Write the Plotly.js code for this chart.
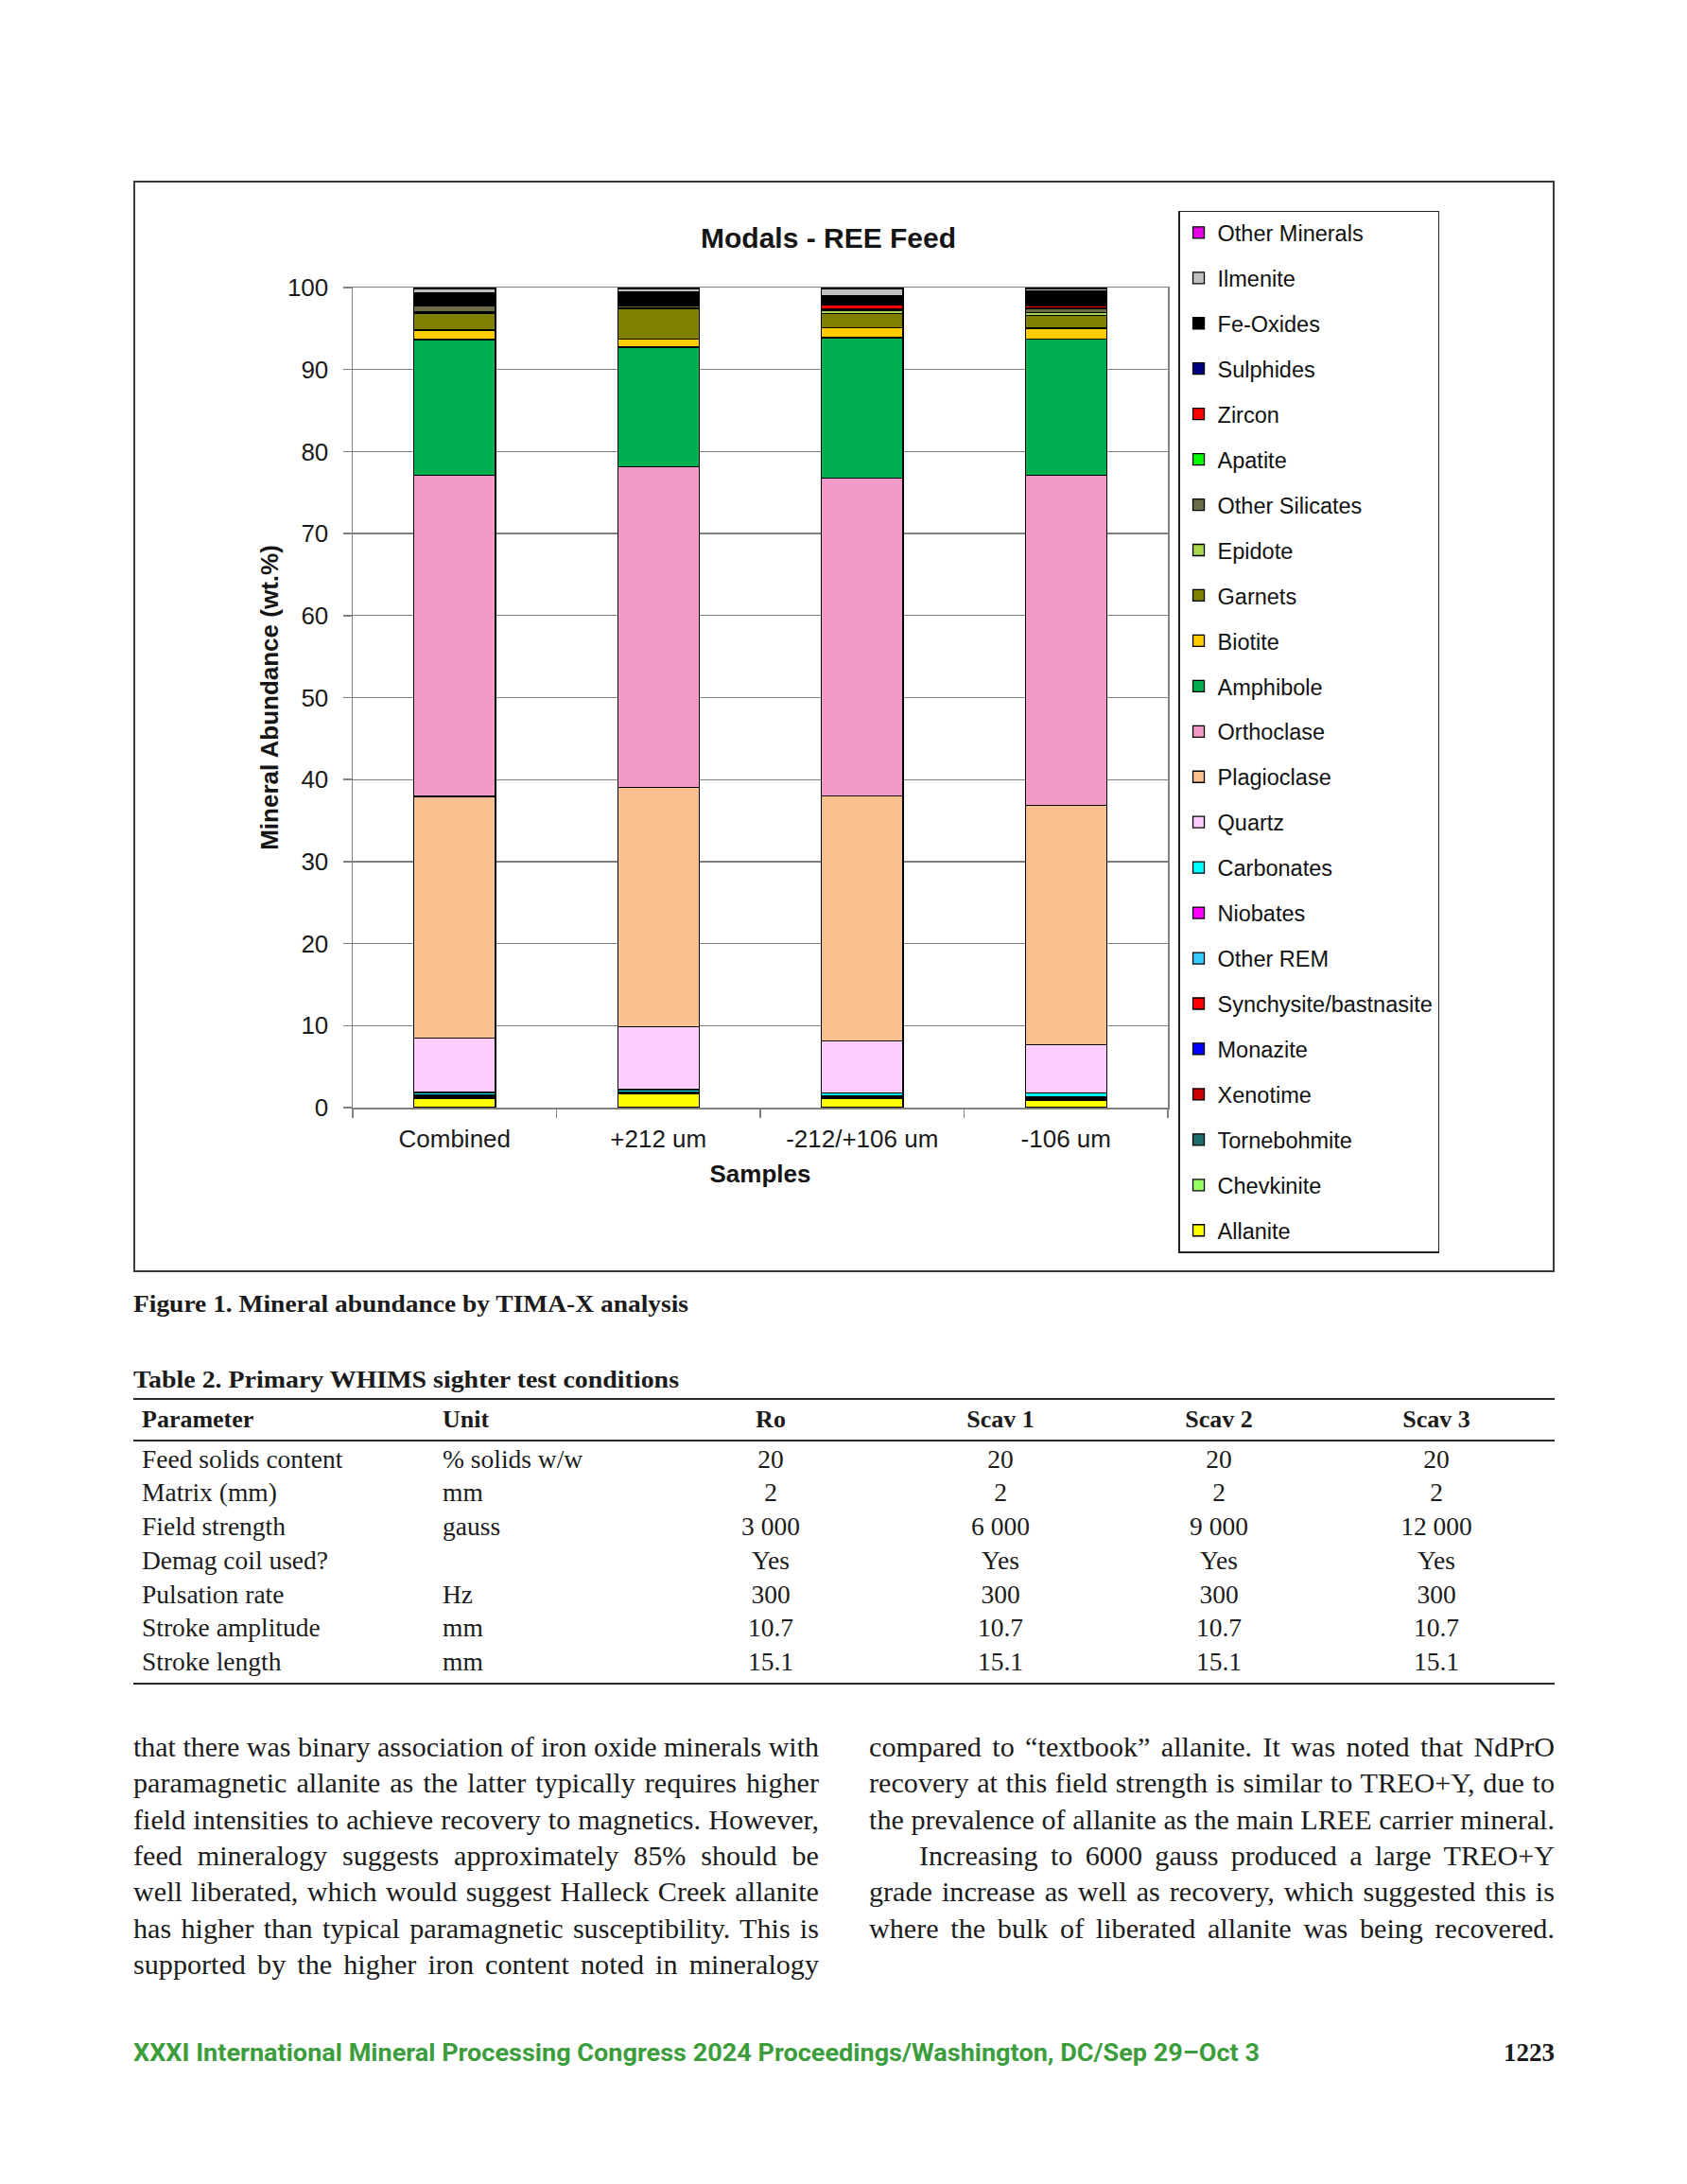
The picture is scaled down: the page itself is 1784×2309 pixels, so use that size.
<!DOCTYPE html>
<html>
<head>
<meta charset="utf-8">
<script src="https://cdn.plot.ly/plotly-3.0.1.min.js"></script>
<style>
  html, body { margin:0; padding:0; background:#fff; }
  body { width:1784px; height:2309px; position:relative; overflow:hidden; }
  #box { position:absolute; left:141px; top:191px; width:1503px; height:1154px; box-sizing:border-box; border:2px solid #3a3a3a; }
  #chart { position:absolute; left:0; top:0; width:1499px; height:1150px; }
  .t { position:absolute; white-space:nowrap; color:#1b1b1b; font-family:'Liberation Serif','Times New Roman',serif; }
  .rule { position:absolute; left:141px; width:1503px; background:#2a2a2a; }
</style>
</head>
<body>
<div id="box"><div id="chart"></div></div>
<div id="page"></div>
<script>
// ---------- chart data ----------
const categories = ['Combined', '+212 um', '-212/+106 um', '-106 um'];
const allanite     = [1.15, 1.70, 1.08, 0.89];
const chevkinite   = [0.05, 0.03, 0.05, 0.05];
const tornebohmite = [0.05, 0.05, 0.10, 0.15];
const xenotime     = [0.02, 0.02, 0.02, 0.03];
const monazite     = [0.05, 0.03, 0.05, 0.05];
const synchysite   = [0.05, 0.03, 0.05, 0.05];
const otherREM     = [0.10, 0.05, 0.10, 0.10];
const niobates     = [0.02, 0.02, 0.02, 0.03];
const carbonates   = [0.35, 0.25, 0.35, 0.40];
const quartz       = [6.66, 7.70, 6.28, 5.95];
const plagioclase  = [29.45, 29.17, 29.90, 29.15];
const orthoclase   = [39.15, 39.10, 38.75, 40.25];
const amphibole    = [16.55, 14.60, 17.15, 16.60];
const biotite      = [1.15, 1.00, 1.20, 1.35];
const garnets      = [2.10, 3.70, 1.70, 1.55];
const epidote      = [0.10, 0.05, 0.35, 0.35];
const otherSilicates = [0.75, 0.25, 0.20, 0.45];
const apatite      = [0.10, 0.05, 0.05, 0.10];
const zircon       = [0.20, 0.05, 0.45, 0.30];
const sulphides    = [0.10, 0.05, 0.05, 0.15];
const feOxides     = [1.15, 1.55, 1.05, 1.65];
const ilmenite     = [0.60, 0.45, 0.85, 0.30];
const otherMinerals = [0.10, 0.10, 0.20, 0.10];

// stack order, bottom to top
const seriesNames = ['Allanite','Chevkinite','Tornebohmite','Xenotime','Monazite','Synchysite/bastnasite',
  'Other REM','Niobates','Carbonates','Quartz','Plagioclase','Orthoclase','Amphibole','Biotite','Garnets',
  'Epidote','Other Silicates','Apatite','Zircon','Sulphides','Fe-Oxides','Ilmenite','Other Minerals'];
const seriesValues = [allanite, chevkinite, tornebohmite, xenotime, monazite, synchysite, otherREM, niobates,
  carbonates, quartz, plagioclase, orthoclase, amphibole, biotite, garnets, epidote, otherSilicates, apatite,
  zircon, sulphides, feOxides, ilmenite, otherMinerals];
const seriesColors = ['#FFFF00','#99FF66','#1F6E6E','#CC0000','#0000FF','#FF0000',
  '#33CCFF','#FF00FF','#00FFFF','#FFCCFF','#FAC090','#F49AC8','#00B050','#FFCC00','#808000',
  '#A8D84E','#6B6B47','#00FF00','#FF0000','#000080','#000000','#C0C0C0','#E600E6'];

const chartTitle = 'Modals - REE Feed';
const yTitle = 'Mineral Abundance (wt.%)';
const xTitle = 'Samples';

const SANS = 'Liberation Sans, Arial, sans-serif';

const traces = seriesNames.map((n, i) => ({
  type: 'bar',
  name: n,
  x: categories,
  y: seriesValues[i],
  legendgroup: 'g' + i,
  legendrank: 100 - i,
  marker: { color: seriesColors[i], line: { color: '#000', width: 1.3 } },
  hoverinfo: 'skip'
}));

const layout = {
  width: 1499, height: 1150,
  margin: { l: 230, r: 407, t: 110.5, b: 171.5, pad: 0 },
  paper_bgcolor: '#fff', plot_bgcolor: '#fff',
  barmode: 'stack', bargap: 0.6,
  font: { family: SANS, color: '#1a1a1a' },
  title: { text: '<b>' + chartTitle + '</b>', font: { size: 30, family: SANS, color: '#151515' },
           x: 0.489, xref: 'container', xanchor: 'center', y: 0.9487, yref: 'container', yanchor: 'middle' },
  xaxis: {
    type: 'category', tickson: 'boundaries', ticks: 'outside', ticklen: 9, tickwidth: 1.5, tickcolor: '#808080',
    showline: true, linecolor: '#808080', linewidth: 1.5, mirror: true, showgrid: false,
    ticklabelstandoff: 9,
    tickfont: { size: 26, family: SANS, color: '#1a1a1a' },
    title: { text: '<b>' + xTitle + '</b>', font: { size: 26, family: SANS, color: '#151515' }, standoff: 14 }
  },
  yaxis: {
    range: [0, 100], dtick: 10, ticks: 'outside', ticklen: 9, tickwidth: 1.5, tickcolor: '#808080',
    showline: true, linecolor: '#808080', linewidth: 1.5, mirror: true,
    showgrid: true, gridcolor: '#808080', gridwidth: 1.3, zeroline: false,
    ticklabelstandoff: 10,
    tickfont: { size: 26, family: SANS, color: '#1a1a1a' },
    title: { text: '<b>' + yTitle + '</b>', font: { size: 26, family: SANS, color: '#151515' }, standoff: 2 }
  },
  showlegend: true,
  legend: {
    x: 1.0128, xanchor: 'left', y: 1.0939, yanchor: 'top',
    bgcolor: '#fff', bordercolor: '#222', borderwidth: 1.5,
    font: { size: 23.5, family: SANS, color: '#111' },
    traceorder: 'grouped', tracegroupgap: 14.4, itemwidth: 30, maxheight: 1150
  }
};

Plotly.newPlot('chart', traces, layout, { staticPlot: true, displayModeBar: false });

// ---------- page text ----------
const captionText = 'Figure 1. Mineral abundance by TIMA-X analysis';
const tableTitle = 'Table 2. Primary WHIMS sighter test conditions';
const tableHeader = ['Parameter', 'Unit', 'Ro', 'Scav 1', 'Scav 2', 'Scav 3'];
const tableParams = ['Feed solids content', 'Matrix (mm)', 'Field strength', 'Demag coil used?', 'Pulsation rate', 'Stroke amplitude', 'Stroke length'];
const tableUnits = ['% solids w/w', 'mm', 'gauss', '', 'Hz', 'mm', 'mm'];
const colRo   = ['20', '2', '3 000', 'Yes', '300', '10.7', '15.1'];
const colScav1 = ['20', '2', '6 000', 'Yes', '300', '10.7', '15.1'];
const colScav2 = ['20', '2', '9 000', 'Yes', '300', '10.7', '15.1'];
const colScav3 = ['20', '2', '12 000', 'Yes', '300', '10.7', '15.1'];
const leftLines = [
  'that there was binary association of iron oxide minerals with',
  'paramagnetic allanite as the latter typically requires higher',
  'field intensities to achieve recovery to magnetics. However,',
  'feed mineralogy suggests approximately 85% should be',
  'well liberated, which would suggest Halleck Creek allanite',
  'has higher than typical paramagnetic susceptibility. This is',
  'supported by the higher iron content noted in mineralogy'
];
const rightLines = [
  'compared to \u201Ctextbook\u201D allanite. It was noted that NdPrO',
  'recovery at this field strength is similar to TREO+Y, due to',
  'the prevalence of allanite as the main LREE carrier mineral.',
  'Increasing to 6000 gauss produced a large TREO+Y',
  'grade increase as well as recovery, which suggested this is',
  'where the bulk of liberated allanite was being recovered.'
];
const footerText = 'XXXI International Mineral Processing Congress 2024 Proceedings/Washington, DC/Sep 29\u2013Oct 3';
const pageNumber = '1223';

const page = document.getElementById('page');
function addText(txt, opt) {
  const d = document.createElement('div');
  d.className = 't';
  d.textContent = txt;
  const fs = opt.size;
  d.style.fontSize = fs + 'px';
  d.style.lineHeight = fs + 'px';
  d.style.height = fs + 'px';
  if (opt.bold) d.style.fontWeight = 'bold';
  if (opt.family) d.style.fontFamily = opt.family;
  if (opt.color) d.style.color = opt.color;
  d.style.top = (opt.cy - fs / 2) + 'px';
  page.appendChild(d);
  const w = d.getBoundingClientRect().width;
  if (opt.align === 'center') d.style.left = (opt.x - w / 2) + 'px';
  else if (opt.align === 'right') d.style.left = (opt.x - w) + 'px';
  else d.style.left = opt.x + 'px';
  if (opt.width) {
    d.style.transformOrigin = '0 50%';
    d.style.transform = 'scaleX(' + (opt.width / w) + ')';
  }
  return d;
}
function addJustified(txt, x, cy, width, size, maxScale) {
  const d = document.createElement('div');
  d.className = 't';
  d.textContent = txt;
  d.style.fontSize = size + 'px';
  d.style.lineHeight = size + 'px';
  d.style.top = (cy - size / 2) + 'px';
  d.style.left = x + 'px';
  page.appendChild(d);
  const w = d.getBoundingClientRect().width;
  const spaces = (txt.match(/ /g) || []).length;
  const s = Math.min(width / w, maxScale);
  d.style.transformOrigin = '0 50%';
  d.style.transform = 'scaleX(' + s + ')';
  if (spaces > 0 && width / s > w) {
    d.style.wordSpacing = ((width / s - w) / spaces) + 'px';
  }
}

addText(captionText, { x: 141, cy: 1379, size: 26, bold: true, width: 587 });
addText(tableTitle, { x: 141, cy: 1459, size: 26, bold: true, width: 577 });

function rule(y, h) {
  const r = document.createElement('div');
  r.className = 'rule';
  r.style.top = (y - h / 2) + 'px';
  r.style.height = h + 'px';
  page.appendChild(r);
}
rule(1479, 2.2);
rule(1523, 2.4);
rule(1780, 2.2);

const colCenters = [815, 1058, 1289, 1519];
addText(tableHeader[0], { x: 150, cy: 1501, size: 26, bold: true });
addText(tableHeader[1], { x: 468, cy: 1501, size: 26, bold: true });
for (let c = 0; c < 4; c++) addText(tableHeader[c + 2], { x: colCenters[c], cy: 1501, size: 26, bold: true, align: 'center' });
const rowCy = [1542.5, 1578, 1613.5, 1649.5, 1685.5, 1721, 1756.5];
const cols = [colRo, colScav1, colScav2, colScav3];
for (let r = 0; r < rowCy.length; r++) {
  addText(tableParams[r], { x: 150, cy: rowCy[r], size: 27.5 });
  if (tableUnits[r]) addText(tableUnits[r], { x: 468, cy: rowCy[r], size: 27.5 });
  for (let c = 0; c < 4; c++) addText(cols[c][r], { x: colCenters[c], cy: rowCy[r], size: 27.5, align: 'center' });
}

const lineCy0 = 1847.5, lineStep = 38.3;
leftLines.forEach((l, i) => addJustified(l, 141, lineCy0 + i * lineStep, 725, 29, 1.04));
rightLines.forEach((l, i) => {
  if (i === 3) addJustified(l, 972, lineCy0 + i * lineStep, 672, 29, 1.04);
  else addJustified(l, 919, lineCy0 + i * lineStep, 725, 29, 1.04);
});

addText(footerText, { x: 141, cy: 2170, size: 25, bold: true, family: 'Roboto, Liberation Sans, sans-serif', color: '#3c9d3c', width: 1191 });
addText(pageNumber, { x: 1644, cy: 2170, size: 27, bold: true, align: 'right' });
</script>
</body>
</html>
